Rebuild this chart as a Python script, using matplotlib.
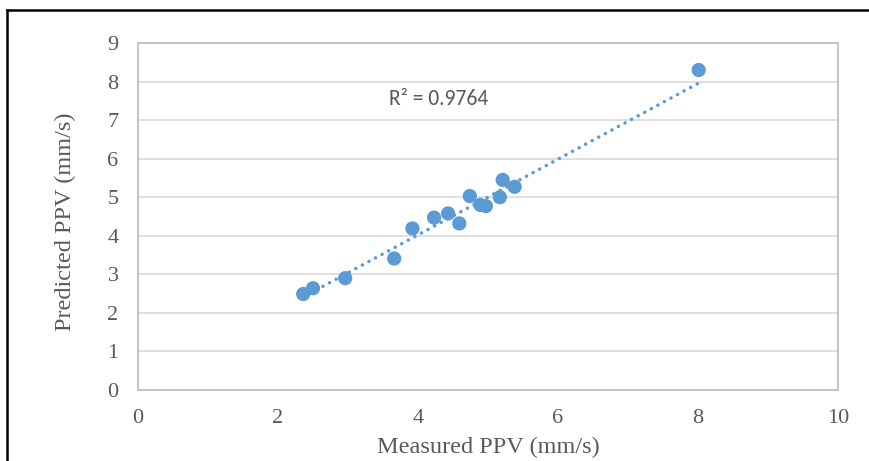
import numpy as np
import matplotlib.pyplot as plt
from matplotlib.lines import Line2D

# measured vs predicted PPV (mm/s)
measured = [2.36, 2.50, 2.96, 3.66, 3.92, 4.23, 4.43, 4.59, 4.74, 4.89, 4.97, 5.17, 5.21, 5.38, 8.01]
predicted = [2.49, 2.64, 2.90, 3.41, 4.19, 4.47, 4.58, 4.32, 5.03, 4.80, 4.77, 5.00, 5.45, 5.27, 8.30]
# linear trendline as drawn in the chart
trend_slope = 0.982
trend_intercept = 0.095
r2_label = "R² = 0.9764"

x_ticks = [0, 2, 4, 6, 8, 10]
y_ticks = list(range(0, 10))

blue = '#5B9BD5'
grey_txt = '#595959'

fig = plt.figure(figsize=(8.69, 4.61), dpi=100)
ax = fig.add_axes([138 / 869, 1 - 390 / 461, 700 / 869, 347 / 461])

# trendline over the data range (Excel style), round dots
xs = np.array([min(measured), max(measured)])
ax.plot(xs, trend_slope * xs + trend_intercept, color=blue, linestyle=(0, (0.05, 2.1)),
        linewidth=2.5, dash_capstyle='round', zorder=2)
ax.scatter(measured, predicted, s=105, color=blue, edgecolors='none', zorder=3)

ax.set_xlim(0, 10)
ax.set_ylim(0, 9)
ax.set_xticks(x_ticks)
ax.set_yticks(y_ticks)
ax.grid(axis='y', color='#D9D9D9', linewidth=1.2)
ax.set_axisbelow(True)
for s in ax.spines.values():
    s.set_color('#BFBFBF')
    s.set_linewidth(1.3)
ax.tick_params(length=0, labelsize=16, labelcolor=grey_txt)
ax.tick_params(axis='x', pad=14)
ax.tick_params(axis='y', pad=14)
for lab in ax.get_xticklabels() + ax.get_yticklabels():
    lab.set_fontfamily('Liberation Serif')

ax.set_xlabel('Measured PPV (mm/s)', fontsize=17.5, color=grey_txt,
              family='Liberation Serif', va='center')
ax.set_ylabel('Predicted PPV (mm/s)', fontsize=17.5, color=grey_txt,
              family='Liberation Serif', va='center')
ax.xaxis.set_label_coords(0.5, (390 - 447) / 347)
ax.yaxis.set_label_coords((65 - 138) / 700, 0.484)

ax.text(4.3, 7.55, r2_label, fontsize=15.5, color=grey_txt, family='Carlito',
        ha='center', va='center')

# black frame around the figure (bottom/right cut off in the original)
fig.add_artist(Line2D([6.5 / 869, 6.5 / 869], [0, 1 - 10.5 / 461], color='black', lw=1.8,
                      transform=fig.transFigure))
fig.add_artist(Line2D([6.5 / 869, 1], [1 - 10.5 / 461, 1 - 10.5 / 461], color='black', lw=1.8,
                      transform=fig.transFigure))

fig.savefig('out.png', dpi=100)
